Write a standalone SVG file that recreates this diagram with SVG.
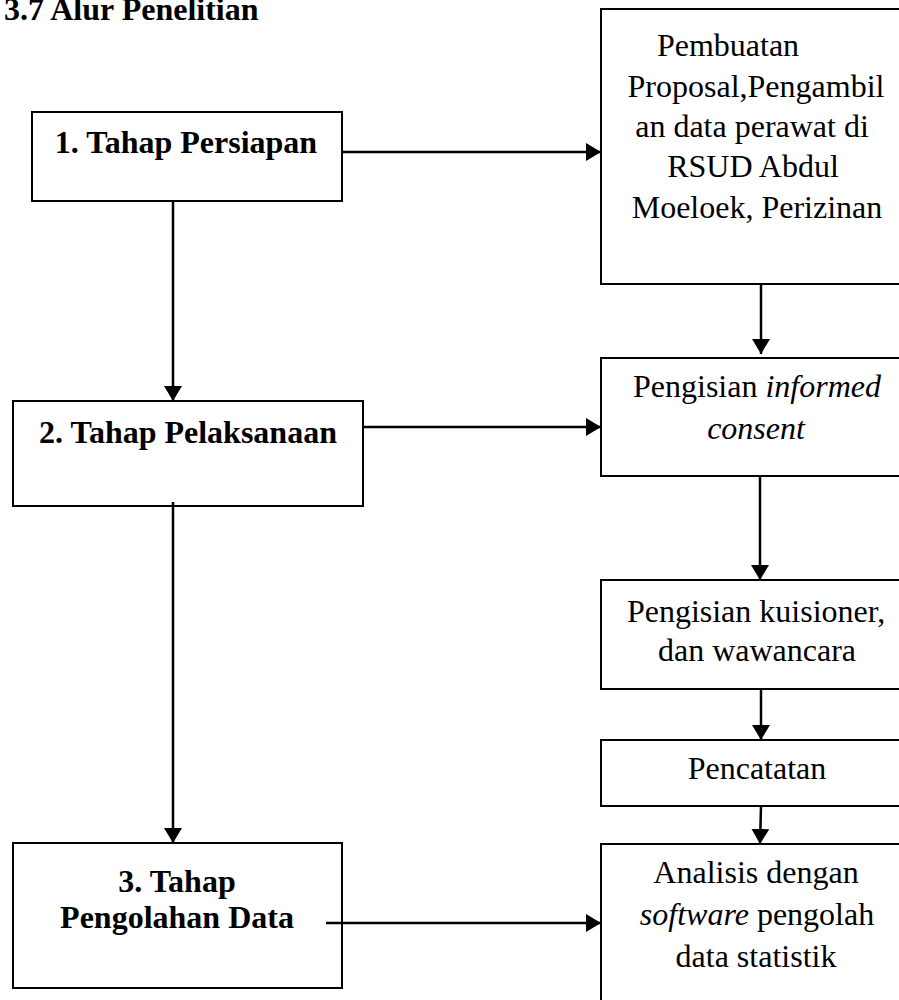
<svg xmlns="http://www.w3.org/2000/svg" width="899" height="1000" viewBox="0 0 899 1000">
<style>
  .box { fill: #ffffff; stroke: #000000; stroke-width: 2; }
  .b { font-family: "Liberation Serif", "Times New Roman", serif; font-weight: bold; font-size: 32px; fill: #000; }
  .r { font-family: "Liberation Serif", "Times New Roman", serif; font-size: 32px; fill: #000; }
  .conn { stroke: #000; stroke-width: 2.5; fill: none; }
</style>
<defs>
  <marker id="arr" viewBox="0 0 15 18" refX="15" refY="9" markerWidth="15" markerHeight="18" markerUnits="userSpaceOnUse" orient="auto">
    <path d="M0,0 L15,9 L0,18 Z" fill="#000"/>
  </marker>
</defs>
<rect width="899" height="1000" fill="#ffffff"/>
<text id="title" class="b" x="4" y="20">3.7 Alur Penelitian</text>

<g id="n1">
  <rect class="box" x="32" y="112" width="310" height="89"/>
  <text class="b" x="186" y="153" text-anchor="middle">1. Tahap Persiapan</text>
</g>
<g id="n2">
  <rect class="box" x="13" y="401" width="350" height="105"/>
  <text class="b" x="188" y="443" text-anchor="middle">2. Tahap Pelaksanaan</text>
</g>
<g id="n3">
  <rect class="box" x="13" y="843" width="329" height="145"/>
  <text class="b" x="177" y="892" text-anchor="middle">3. Tahap</text>
  <text class="b" x="177" y="928" text-anchor="middle">Pengolahan Data</text>
</g>
<g id="r1">
  <rect class="box" x="601" y="9" width="310" height="275"/>
  <text class="r" x="728" y="56" text-anchor="middle">Pembuatan</text>
  <text class="r" x="756" y="97" text-anchor="middle">Proposal,Pengambil</text>
  <text class="r" x="752" y="137" text-anchor="middle">an data perawat di</text>
  <text class="r" x="753" y="177" text-anchor="middle">RSUD Abdul</text>
  <text class="r" x="757" y="218" text-anchor="middle">Moeloek, Perizinan</text>
</g>
<g id="r2">
  <rect class="box" x="601" y="358" width="310" height="118"/>
  <text class="r" x="757" y="397" text-anchor="middle">Pengisian <tspan font-style="italic">informed</tspan></text>
  <text class="r" x="756" y="439" text-anchor="middle" font-style="italic">consent</text>
</g>
<g id="r3">
  <rect class="box" x="601" y="580" width="310" height="109"/>
  <text class="r" x="756" y="622" text-anchor="middle">Pengisian kuisioner,</text>
  <text class="r" x="757" y="661" text-anchor="middle">dan wawancara</text>
</g>
<g id="r4">
  <rect class="box" x="601" y="740" width="310" height="66"/>
  <text class="r" x="757" y="779" text-anchor="middle">Pencatatan</text>
</g>
<g id="r5">
  <rect class="box" x="601" y="844" width="310" height="170"/>
  <text class="r" x="756" y="883" text-anchor="middle">Analisis dengan</text>
  <text class="r" x="757" y="925" text-anchor="middle"><tspan font-style="italic">software</tspan> pengolah</text>
  <text class="r" x="756" y="967" text-anchor="middle">data statistik</text>
</g>

<g id="connectors">
  <line class="conn" x1="342" y1="152" x2="601" y2="152" marker-end="url(#arr)"/>
  <line class="conn" x1="173" y1="201" x2="173" y2="401" marker-end="url(#arr)"/>
  <line class="conn" x1="363" y1="427" x2="601" y2="427" marker-end="url(#arr)"/>
  <line class="conn" x1="173" y1="502" x2="173" y2="843" marker-end="url(#arr)"/>
  <line class="conn" x1="326" y1="923" x2="601" y2="923" marker-end="url(#arr)"/>
  <line class="conn" x1="761" y1="284" x2="761" y2="354" marker-end="url(#arr)"/>
  <line class="conn" x1="760" y1="476" x2="760" y2="580" marker-end="url(#arr)"/>
  <line class="conn" x1="761" y1="689" x2="761" y2="740" marker-end="url(#arr)"/>
  <line class="conn" x1="761" y1="806" x2="760" y2="844" marker-end="url(#arr)"/>
</g>
</svg>
